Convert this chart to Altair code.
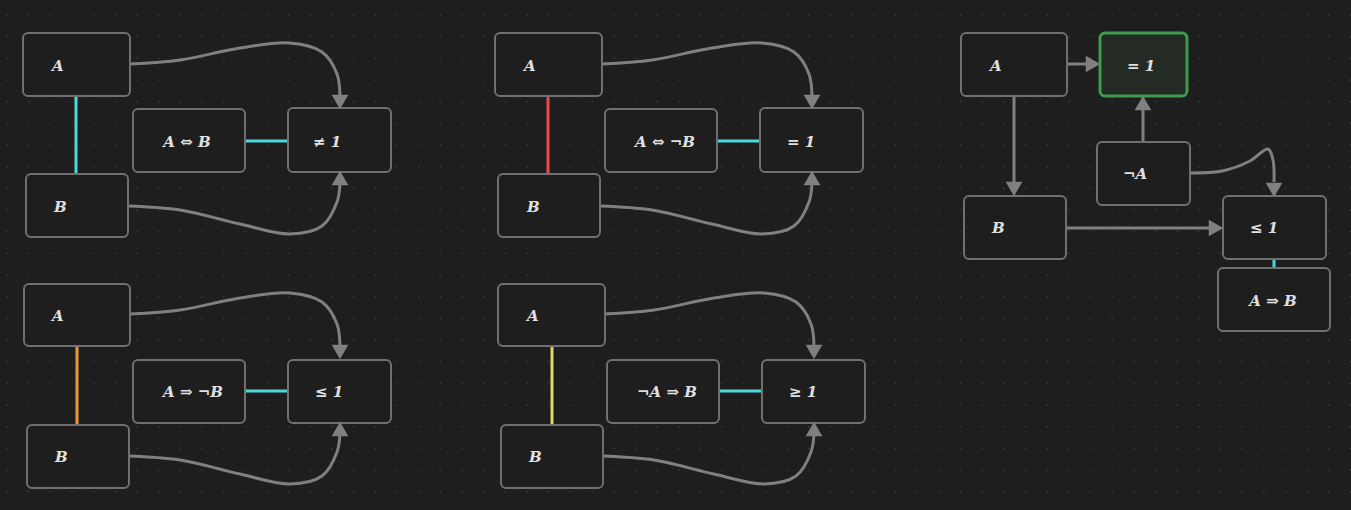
import numpy as np
import pandas as pd
import altair as alt

W, H = 1351, 510
BG = "#1e1e1e"

# boxes: x1, x2, y1, y2 in page pixels
box_x1 = [23, 26, 133, 288, 24, 27, 133, 288, 495, 498, 605, 760, 498, 501, 607, 762, 961, 964, 1097, 1223, 1218]
box_x2 = [130, 128, 245, 391, 130, 129, 245, 391, 602, 600, 717, 863, 605, 603, 719, 865, 1067, 1066, 1190, 1326, 1330]
box_y1 = [33, 174, 109, 108, 284, 425, 360, 360, 33, 174, 109, 108, 284, 425, 360, 360, 33, 196, 142, 196, 268]
box_y2 = [96, 237, 172, 172, 346, 488, 423, 423, 96, 237, 172, 172, 346, 488, 423, 423, 96, 259, 205, 259, 331]

# green highlighted box
hi_box = {"x1": 1100, "x2": 1187, "y1": 33, "y2": 96}

# labels
lab_text = ["A", "B", "A ⇔ B", "≠ 1", "A", "B", "A ⇒ ¬B", "≤ 1",
            "A", "B", "A ⇔ ¬B", "= 1", "A", "B", "¬A ⇒ B", "≥ 1",
            "A", "B", "¬A", "≤ 1", "A ⇒ B", "= 1"]
lab_x = [52, 54, 187, 313, 52, 55, 193, 315, 524, 527, 665, 787, 527, 529, 667, 789, 990, 992, 1123, 1250, 1273, 1141]
lab_y = [66, 207, 142, 142, 316, 457, 392, 392, 66, 207, 142, 142, 316, 457, 392, 392, 66, 228, 174, 228, 301, 66]
lab_align = ["left", "left", "center", "left", "left", "left", "center", "left",
             "left", "left", "center", "left", "left", "left", "center", "left",
             "left", "left", "left", "left", "center", "center"]

# coloured straight connectors
con_x1 = [76, 245, 77, 245, 548, 717, 552, 719, 1274]
con_x2 = [76, 288, 77, 288, 548, 760, 552, 762, 1274]
con_y1 = [96, 141, 346, 391, 96, 141, 346, 391, 259]
con_y2 = [174, 141, 425, 391, 174, 141, 425, 391, 268]
con_col = ["#4dd9d9", "#4dd9d9", "#f0982e", "#4dd9d9", "#e84848", "#4dd9d9", "#e0d860", "#4dd9d9", "#4dd9d9"]

# grey straight arrows
arr_x1 = [1067, 1143, 1014, 1066]
arr_x2 = [1088, 1143, 1014, 1210]
arr_y1 = [64, 142, 96, 228]
arr_y2 = [64, 108, 184, 228]

# curves
curve_top_x = [130, 180, 240, 290, 322, 337, 340]
curve_top_y = [64, 60, 48, 43, 52, 74, 97]
curve_bot_x = [128, 180, 240, 290, 322, 337, 340]
curve_bot_y = [206, 210, 224, 234, 226, 202, 183]
curve_na_x = [1190, 1222, 1250, 1268, 1273, 1274]
curve_na_y = [173, 171, 161, 149, 160, 182]

# arrowheads
head_x = [340, 340, 340, 340, 812, 812, 814, 814, 1093, 1143, 1014, 1216, 1274]
head_y = [102, 178, 352, 429, 102, 178, 352, 429, 64, 103, 189, 228, 190]
head_shape = ["triangle-down", "triangle-up", "triangle-down", "triangle-up",
              "triangle-down", "triangle-up", "triangle-down", "triangle-up",
              "triangle-right", "triangle-up", "triangle-down", "triangle-right", "triangle-down"]

xs = alt.Scale(domain=[0, W], range=[0, W])
ys = alt.Scale(domain=[0, H], range=[0, H])
X = lambda f: alt.X(f, scale=xs, axis=None)
Y = lambda f: alt.Y(f, scale=ys, axis=None)

# background dot grid
gx, gy = np.meshgrid(np.arange(7, W, 21.67), np.arange(15, H, 21.67))
dots = pd.DataFrame({"x": gx.ravel(), "y": gy.ravel()})
dot_layer = alt.Chart(dots).mark_circle(size=3, color="#3c3c3c", opacity=1).encode(x=X("x:Q"), y=Y("y:Q"))

# curves, copied for each group offset
curves = []
offsets = [(0, 0), (0, 250), (472, 0), (474, 250)]
for gi, (dx, dy) in enumerate(offsets):
    for nm, cx, cy in [("t", curve_top_x, curve_top_y), ("b", curve_bot_x, curve_bot_y)]:
        for i, (a, b) in enumerate(zip(cx, cy)):
            curves.append({"id": f"{gi}{nm}", "o": i, "x": a + dx, "y": b + dy})
for i, (a, b) in enumerate(zip(curve_na_x, curve_na_y)):
    curves.append({"id": "na", "o": i, "x": a, "y": b})
curve_layer = alt.Chart(pd.DataFrame(curves)).mark_line(
    color="#808080", strokeWidth=3, interpolate="catmull-rom"
).encode(x=X("x:Q"), y=Y("y:Q"), detail="id:N", order="o:Q")

heads = pd.DataFrame({"x": head_x, "y": head_y, "shape": head_shape})
head_layer = alt.Chart(heads).mark_point(filled=True, size=280, color="#808080", opacity=1).encode(
    x=X("x:Q"), y=Y("y:Q"),
    shape=alt.Shape("shape:N", scale=None, legend=None))

arrows = pd.DataFrame({"x": arr_x1, "x2": arr_x2, "y": arr_y1, "y2": arr_y2})
arrow_layer = alt.Chart(arrows).mark_rule(color="#808080", strokeWidth=3).encode(
    x=X("x:Q"), x2="x2:Q", y=Y("y:Q"), y2="y2:Q")

cons = pd.DataFrame({"x": con_x1, "x2": con_x2, "y": con_y1, "y2": con_y2, "c": con_col})
con_layer = alt.Chart(cons).mark_rule(strokeWidth=3).encode(
    x=X("x:Q"), x2="x2:Q", y=Y("y:Q"), y2="y2:Q",
    color=alt.Color("c:N", scale=None, legend=None))

boxes = pd.DataFrame({"x1": box_x1, "x2": box_x2, "y1": box_y1, "y2": box_y2})
box_layer = alt.Chart(boxes).mark_rect(
    fill=BG, stroke="#707070", strokeWidth=2, cornerRadius=5
).encode(x=X("x1:Q"), x2="x2:Q", y=Y("y1:Q"), y2="y2:Q")

hi_layer = alt.Chart(pd.DataFrame([hi_box])).mark_rect(
    fill="#232b24", stroke="#3d9b52", strokeWidth=3, cornerRadius=5
).encode(x=X("x1:Q"), x2="x2:Q", y=Y("y1:Q"), y2="y2:Q")

labels = pd.DataFrame({"t": lab_text, "x": lab_x, "y": lab_y, "a": lab_align})
text_layers = []
for al in ["left", "center"]:
    text_layers.append(
        alt.Chart(labels[labels["a"] == al]).mark_text(
            align=al, baseline="middle", font="DejaVu Serif", fontStyle="italic",
            fontWeight="bold", fontSize=15, color="#e0e0e0"
        ).encode(x=X("x:Q"), y=Y("y:Q"), text="t:N"))

chart = alt.layer(
    dot_layer, curve_layer, arrow_layer, con_layer, box_layer, hi_layer, head_layer, *text_layers
).properties(width=W, height=H, padding=0, autosize=alt.AutoSizeParams(type="none")
).configure(background=BG).configure_view(stroke=None)

chart.save("out.html", embed_options={"renderer": "svg", "actions": False})

with open("out.html") as f:
    html = f.read()
html = html.replace("<head>", "<head><style>body{margin:0;background:#1e1e1e;overflow:hidden}</style>", 1)
with open("out.html", "w") as f:
    f.write(html)
